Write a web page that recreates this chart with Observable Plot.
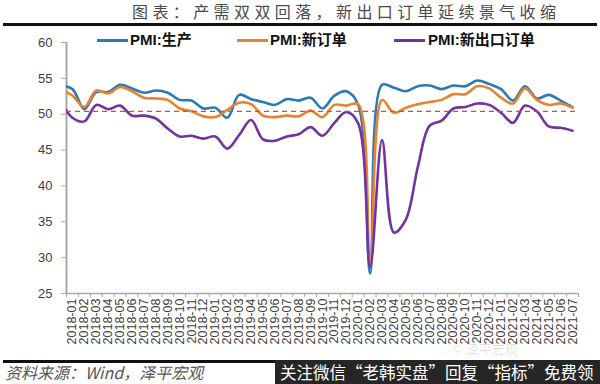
<!DOCTYPE html>
<html><head><meta charset="utf-8">
<script src="https://cdn.jsdelivr.net/npm/d3@7"></script>
<script src="https://cdn.jsdelivr.net/npm/@observablehq/plot@0.6"></script>
<style>
body{margin:0;background:#fff;}
#wrap{position:relative;width:600px;height:384px;overflow:hidden;font-family:"Noto Sans CJK SC",sans-serif;background:#fff;}
#title{position:absolute;left:132px;top:1px;white-space:nowrap;font-size:16px;letter-spacing:4.4px;color:#4a4a4a;line-height:20px;}
.rule{position:absolute;left:3px;height:3px;background:#111;}
#chart{position:absolute;left:0;top:25px;}
.sw{position:absolute;height:2.5px;width:31px;}
.lt{position:absolute;font-family:"Liberation Sans","Noto Sans CJK SC",sans-serif;font-weight:bold;font-size:15px;line-height:20px;color:#111;white-space:nowrap;}
#caption{position:absolute;left:5px;top:362px;font-size:16px;font-style:italic;color:#555;line-height:20px;white-space:nowrap;}
#wm{position:absolute;left:452px;top:340px;font-size:13px;line-height:17px;color:rgba(0,0,0,0.13);white-space:nowrap;}
#box{position:absolute;left:275px;top:360px;width:325px;height:24px;background:#262626;}
#boxtext{position:absolute;left:280px;top:360px;font-size:16.5px;line-height:24px;color:#fff;white-space:nowrap;}
</style></head>
<body>
<div id="wrap">
  <div id="title">图表：产需双双回落，新出口订单延续景气收缩</div>
  <div class="rule" style="top:23px;width:594px;"></div>
  <div id="chart"></div>
  <div id="legend"></div>
  <div class="rule" style="top:360px;width:275px;"></div>
  <div id="caption">资料来源：Wind，泽平宏观</div>
  <div id="wm">© 泽平宏观</div>
  <div id="box"></div>
  <div id="boxtext">关注微信“老韩实盘”回复“指标”免费领</div>
</div>
<script>
// Month categories (2017-12 is only the clipped lead-in point left of the axis)
const months = ["2017-12",
  "2018-01","2018-02","2018-03","2018-04","2018-05","2018-06","2018-07","2018-08","2018-09","2018-10","2018-11","2018-12",
  "2019-01","2019-02","2019-03","2019-04","2019-05","2019-06","2019-07","2019-08","2019-09","2019-10","2019-11","2019-12",
  "2020-01","2020-02","2020-03","2020-04","2020-05","2020-06","2020-07","2020-08","2020-09","2020-10","2020-11","2020-12",
  "2021-01","2021-02","2021-03","2021-04","2021-05","2021-06","2021-07"];

const production = [54.0,
  53.5,50.7,53.1,53.1,54.1,53.6,53.0,53.3,53.0,52.0,51.9,50.8,
  50.9,49.5,52.7,52.1,51.7,51.3,52.1,51.9,52.3,50.8,52.6,53.2,
  51.3,27.8,54.1,53.7,53.2,53.9,54.0,53.5,54.0,53.9,54.7,54.2,
  53.5,51.9,53.9,52.2,52.7,51.9,51.0];

const newOrders = [53.4,
  52.6,51.0,53.3,52.9,53.8,53.2,52.3,52.2,52.0,50.8,50.4,49.7,
  49.6,50.6,51.6,51.4,49.8,49.6,49.8,49.7,50.5,49.6,51.3,51.2,
  51.4,29.3,52.0,50.2,50.9,51.4,51.7,52.0,52.8,52.8,53.9,53.6,
  52.3,51.5,53.6,52.0,51.3,51.5,50.9];

const exportOrders = [51.9,
  49.5,49.0,51.3,50.7,51.2,49.8,49.8,49.4,48.0,46.9,47.0,46.6,
  46.9,45.2,47.1,49.2,46.5,46.3,46.9,47.2,48.2,47.0,48.8,50.3,
  48.7,28.7,46.4,33.5,35.3,42.6,48.4,49.1,50.8,51.0,51.5,51.3,
  50.2,48.8,51.2,50.4,48.3,48.1,47.7];

const seriesNames = ["PMI:生产","PMI:新订单","PMI:新出口订单"];
const seriesColors = ["#2a7ab8","#e8822e","#7232a0"];
const yTicks = [25,30,35,40,45,50,55,60];
const refLevel = 50.4;

const seriesValues = [production, newOrders, exportOrders];
const rows = [];
seriesValues.forEach((vals, s) => {
  vals.forEach((v, i) => rows.push({idx: i - 1, value: v, series: seriesNames[s]}));
});
const labelIdx = d3.range(0, months.length - 1);
const bounds = d3.range(-0.5, months.length - 1, 1);
const axisGray = "#a8a8a8";

const chart = Plot.plot({
  width: 600, height: 330,
  marginTop: 17, marginBottom: 62, marginLeft: 66, marginRight: 22,
  x: {type: "linear", domain: [-0.5, months.length - 1.5]},
  y: {domain: [25, 60]},
  color: {domain: seriesNames, range: seriesColors},
  style: {fontFamily: "'Liberation Sans', sans-serif", background: "transparent", overflow: "visible"},
  marks: [
    Plot.axisY({ticks: yTicks, tickSize: 5, tickPadding: 9, fontSize: 13, stroke: axisGray, fill: "#404040", label: null}),
    Plot.axisX({ticks: bounds, tickFormat: () => "", tickSize: 4, stroke: axisGray, label: null}),
    Plot.axisX({ticks: labelIdx, tickFormat: i => months[i + 1], tickRotate: -90, tickSize: 0, tickPadding: 5, fontSize: 12.5, fill: "#404040", label: null}),
    Plot.ruleX([-0.5], {stroke: axisGray, strokeWidth: 2}),
    Plot.ruleY([25], {stroke: axisGray, strokeWidth: 1.5}),
    Plot.line(rows, {x: "idx", y: "value", z: "series", stroke: "series", strokeWidth: 2.6, curve: "catmull-rom", clip: true}),
    Plot.ruleY([refLevel], {stroke: "#e0453a", strokeWidth: 1.4, strokeDasharray: "5,4"})
  ]
});
document.getElementById("chart").appendChild(chart);

// Legend
const legendPos = [{sw: 97, tx: 130}, {sw: 237, tx: 270}, {sw: 394, tx: 428}];
const legend = document.getElementById("legend");
seriesNames.forEach((name, k) => {
  const sw = document.createElement("div");
  sw.className = "sw";
  sw.style.left = legendPos[k].sw + "px";
  sw.style.top = "39px";
  sw.style.background = seriesColors[k];
  legend.appendChild(sw);
  const t = document.createElement("div");
  t.className = "lt";
  t.style.left = legendPos[k].tx + "px";
  t.style.top = "30px";
  t.textContent = name;
  legend.appendChild(t);
});
</script>
</body></html>
